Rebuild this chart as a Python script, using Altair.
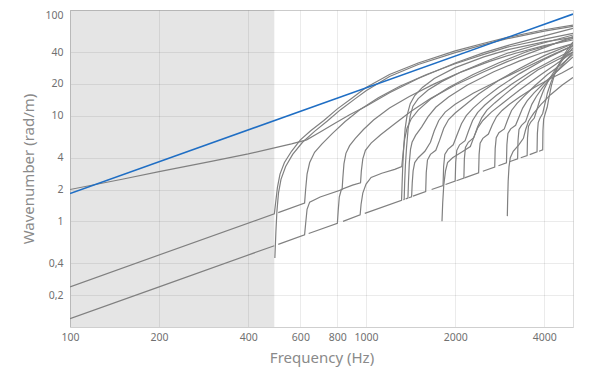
import altair as alt
import pandas as pd

freq_ticks = [100, 200, 400, 600, 800, 1000, 2000, 4000]
k_ticks = [0.2, 0.4, 1, 2, 4, 10, 20, 40, 100]
shade_band = [100, 490]
air_line = [(100, 1.83), (5000, 91.6)]

curve_01 = [(100, 0.12), (200, 0.24), (490, 0.588)]
curve_02 = [(100, 0.24), (490, 1.18), (495, 1.5), (502, 2.1), (512, 2.8), (530, 3.6), (560, 4.6), (600, 5.9), (650, 7.2), (720, 9.0), (800, 11.6), (900, 14.8), (1000, 18.5), (1200, 24.5), (1500, 31.5), (2000, 41), (2500, 48.5), (3000, 55), (4000, 65), (5000, 72)]
curve_03 = [(492, 0.45), (496, 0.8), (500, 1.25), (506, 1.85), (516, 2.5), (535, 3.3), (565, 4.3), (610, 5.6), (670, 7.1), (740, 8.9), (820, 11.4), (920, 14.5), (1000, 17.2), (1200, 23.5), (1500, 30.5), (2000, 39.5), (2500, 47), (3000, 53.5), (4000, 63), (5000, 70)]
curve_04 = [(100, 2.0), (150, 2.5), (200, 2.95), (300, 3.7), (400, 4.35), (490, 4.95), (560, 5.4), (630, 5.9), (700, 7.0), (780, 8.4), (880, 10.2), (1000, 12.3), (1200, 16.5), (1500, 22.5), (2000, 31.5), (2500, 39.5), (3000, 46), (4000, 57), (5000, 67)]
curve_05 = [(505, 1.21), (620, 1.49), (625, 2.0), (632, 2.8), (645, 3.6), (670, 4.5), (710, 5.4), (770, 6.8), (850, 8.8), (950, 11.3), (1100, 14.8), (1300, 19), (1600, 24.5), (2000, 31), (2500, 38), (3000, 44.5), (4000, 53), (5000, 60)]
curve_06 = [(505, 0.606), (620, 0.744), (625, 0.95), (632, 1.3), (645, 1.52), (700, 1.7), (830, 2.0), (835, 2.6), (842, 3.5), (855, 4.4), (880, 5.2), (920, 6.1), (980, 7.4), (1060, 9.1), (1200, 11.8), (1400, 15.2), (1700, 20), (2000, 24.5), (2500, 32), (3000, 39), (4000, 49), (5000, 58)]
curve_07 = [(640, 0.768), (800, 0.96), (805, 1.25), (812, 1.7), (825, 2.0), (900, 2.2), (958, 2.32), (964, 3.0), (975, 3.9), (995, 4.7), (1040, 5.5), (1120, 6.6), (1250, 8.4), (1420, 11), (1650, 14.5), (2000, 19.5), (2500, 26), (3000, 32.5), (4000, 44), (5000, 56)]
curve_08 = [(836, 1.0), (955, 1.15), (962, 1.45), (975, 1.85), (1000, 2.25), (1040, 2.6), (1130, 2.85), (1250, 3.1), (1320, 3.3), (1335, 4.5), (1350, 6.0), (1375, 7.6), (1420, 9.3), (1500, 11.3), (1650, 14.3), (1900, 18.5), (2300, 24.5), (2800, 31.5), (3500, 40.5), (5000, 54)]
curve_09 = [(990, 1.19), (1318, 1.58), (1323, 2.2), (1330, 3.3), (1340, 5.0), (1355, 7.5), (1375, 10), (1410, 13), (1460, 15.5), (1550, 18.5), (1700, 22.5), (2000, 28.5), (2500, 36), (3000, 42), (4000, 50), (5000, 55)]
curve_10 = [(1335, 1.6), (1345, 1.61), (1350, 2.3), (1358, 3.4), (1370, 5.0), (1387, 7.5), (1410, 10), (1440, 12.3), (1500, 14.5), (1620, 17.5), (1800, 21), (2100, 26), (2600, 32.5), (3200, 39), (4000, 46), (5000, 52)]
curve_11 = [(1360, 1.63), (1385, 1.66), (1391, 2.4), (1400, 3.6), (1413, 4.8), (1430, 5.6), (1470, 6.5), (1540, 7.8), (1620, 9.8), (1720, 12), (1900, 15), (2200, 19.5), (2700, 26), (3300, 33), (4000, 40), (5000, 48)]
curve_12 = [(1395, 1.67), (1425, 1.71), (1432, 2.3), (1442, 3.0), (1460, 3.6), (1500, 4.0), (1580, 4.6), (1650, 5.6), (1700, 7.2), (1760, 9.0), (1850, 10.8), (2000, 12.8), (2300, 16.3), (2800, 21.5), (3500, 29), (4200, 37), (5000, 46)]
curve_13 = [(1440, 1.73), (1590, 1.91), (1597, 2.9), (1612, 3.8), (1650, 4.3), (1720, 4.7), (1770, 5.8), (1830, 7.6), (1900, 9.2), (2000, 10.6), (2150, 12.5), (2400, 16), (2800, 21.5), (3300, 28), (4000, 37), (5000, 48)]
curve_14 = [(1805, 1.0), (1815, 1.5), (1830, 2.2), (1855, 3.0), (1885, 3.6), (1960, 4.0), (2100, 4.5), (2250, 5.1), (2310, 6.2), (2380, 7.6), (2480, 9.0), (2650, 10.8), (2900, 13.2), (3300, 17.5), (3900, 24.5), (4400, 31), (5000, 40)]
curve_15 = [(1665, 2.0), (1820, 2.18), (1828, 3.3), (1845, 4.3), (1890, 4.8), (1970, 5.3), (2030, 6.6), (2100, 8.4), (2180, 10), (2300, 11.8), (2500, 14.5), (2800, 18.5), (3300, 25), (4000, 34), (5000, 46)]
curve_16 = [(1855, 2.23), (2000, 2.4), (2008, 3.6), (2025, 4.7), (2070, 5.3), (2160, 5.8), (2220, 7.2), (2290, 9.0), (2380, 10.7), (2520, 12.6), (2750, 15.5), (3100, 19.8), (3600, 26), (4300, 34), (5000, 42)]
curve_17 = [(2020, 2.42), (2140, 2.57), (2148, 3.9), (2166, 5.0), (2215, 5.6), (2310, 6.2), (2380, 7.8), (2460, 9.6), (2560, 11.3), (2720, 13.2), (2950, 16), (3300, 20.5), (3800, 27), (4400, 33.5), (5000, 40)]
curve_18 = [(2150, 2.58), (2400, 2.88), (2409, 4.3), (2428, 5.5), (2480, 6.1), (2590, 6.7), (2670, 8.2), (2760, 9.8), (2880, 11.2), (3050, 12.8), (3300, 15), (3700, 18.5), (4200, 22.5), (4600, 25.5), (5000, 29)]
curve_19 = [(2480, 2.98), (2720, 3.26), (2730, 4.9), (2752, 6.2), (2810, 6.9), (2930, 7.5), (3010, 9.2), (3100, 11.2), (3230, 13), (3420, 15.3), (3700, 19), (4100, 24.5), (4600, 31), (5000, 38)]
curve_20 = [(3000, 1.12), (3008, 1.6), (3020, 2.4), (3040, 3.3), (3070, 4.0), (3140, 4.6), (3280, 5.3), (3400, 6.1), (3460, 7.4), (3540, 8.9), (3680, 10.5), (3900, 12.8), (4200, 15.8), (4600, 19.5), (5000, 23)]
curve_21 = [(2800, 3.36), (2980, 3.58), (2990, 5.3), (3014, 6.8), (3080, 7.5), (3200, 8.1), (3290, 9.8), (3380, 11.8), (3500, 13.8), (3700, 16.5), (4000, 20.5), (4400, 26), (5000, 36)]
curve_22 = [(3050, 3.66), (3250, 3.9), (3260, 5.8), (3285, 7.4), (3350, 8.1), (3460, 8.8), (3540, 10.6), (3630, 12.8), (3760, 15.2), (3950, 18.5), (4250, 23.5), (4600, 30), (5000, 40)]
curve_23 = [(3330, 4.0), (3500, 4.2), (3510, 6.2), (3536, 7.9), (3600, 8.7), (3700, 9.5), (3780, 11.5), (3860, 14), (3980, 17.5), (4150, 22), (4400, 28.5), (4700, 36), (5000, 44)]
curve_24 = [(3570, 4.28), (3780, 4.54), (3790, 6.8), (3815, 8.6), (3870, 9.5), (3950, 10.5), (4020, 13), (4100, 16.5), (4220, 21), (4400, 27.5), (4650, 36), (5000, 47)]
curve_25 = [(3840, 4.6), (3950, 4.74), (3958, 7.2), (3980, 9.3), (4030, 10.5), (4090, 12), (4150, 15), (4230, 19.5), (4350, 25.5), (4550, 33.5), (4780, 42), (5000, 50)]

curves = [curve_01, curve_02, curve_03, curve_04, curve_05, curve_06, curve_07,
          curve_08, curve_09, curve_10, curve_11, curve_12, curve_13, curve_14,
          curve_15, curve_16, curve_17, curve_18, curve_19, curve_20, curve_21,
          curve_22, curve_23, curve_24, curve_25]

rows = []
for ci, c in enumerate(curves):
    for pi, (f, k) in enumerate(c):
        rows.append({"curve": ci, "idx": pi, "f": f, "k": k})
gray_df = pd.DataFrame(rows)
air_df = pd.DataFrame([{"idx": i, "f": f, "k": k} for i, (f, k) in enumerate(air_line)])
shade_df = pd.DataFrame([{"f0": shade_band[0], "f1": shade_band[1]}])

FONT = "Noto Sans"
PLOT_H = 317
xscale = alt.Scale(type="log", domain=[100, 5000], nice=False)
yscale = alt.Scale(type="log", domain=[0.1, 100], nice=False)
label_expr = "replace(toString(datum.value), '.', ',')"

common = dict(ticks=False, labelFontSize=10.5, titleFontSize=15, labelColor="#707070",
              titleColor="#8a8a8a", titleFontWeight="normal", gridColor="#000000",
              gridOpacity=0.08, domainColor="#cfcfcf", labelFont=FONT, titleFont=FONT,
              labelExpr=label_expr, labelFlush=False)
x_axis = alt.Axis(values=freq_ticks, title="Frequency (Hz)", labelPadding=5,
                  titlePadding=8, **common)
y_axis = alt.Axis(values=k_ticks, title="Wavenumber (rad/m)", labelPadding=7,
                  titlePadding=8,
                  labelOffset={"condition": {"test": "datum.value >= 100", "value": 5}, "value": 0},
                  **common)

shade = alt.Chart(shade_df).mark_rect(color="#000000", opacity=0.1).encode(
    x=alt.X("f0:Q", scale=xscale, axis=x_axis),
    x2="f1:Q",
    y=alt.value(0),
    y2=alt.value(PLOT_H),
)

gray = alt.Chart(gray_df).mark_line(color="#808080", strokeWidth=1.2, clip=True).encode(
    x=alt.X("f:Q", scale=xscale, axis=x_axis),
    y=alt.Y("k:Q", scale=yscale, axis=y_axis),
    detail="curve:N",
    order="idx:Q",
)

blue = alt.Chart(air_df).mark_line(color="#1f6ec4", strokeWidth=1.6, clip=True).encode(
    x=alt.X("f:Q", scale=xscale, axis=x_axis),
    y=alt.Y("k:Q", scale=yscale, axis=y_axis),
    order="idx:Q",
)

chart = alt.layer(shade, gray, blue).properties(
    width=503, height=PLOT_H,
    autosize=alt.AutoSizeParams(type="none"),
    padding={"left": 62, "top": 2, "right": 11, "bottom": 40},
).configure_view(stroke="#d6d6d6").configure(font=FONT)

chart.save("out.html", embed_options={"renderer": "svg", "actions": False})
